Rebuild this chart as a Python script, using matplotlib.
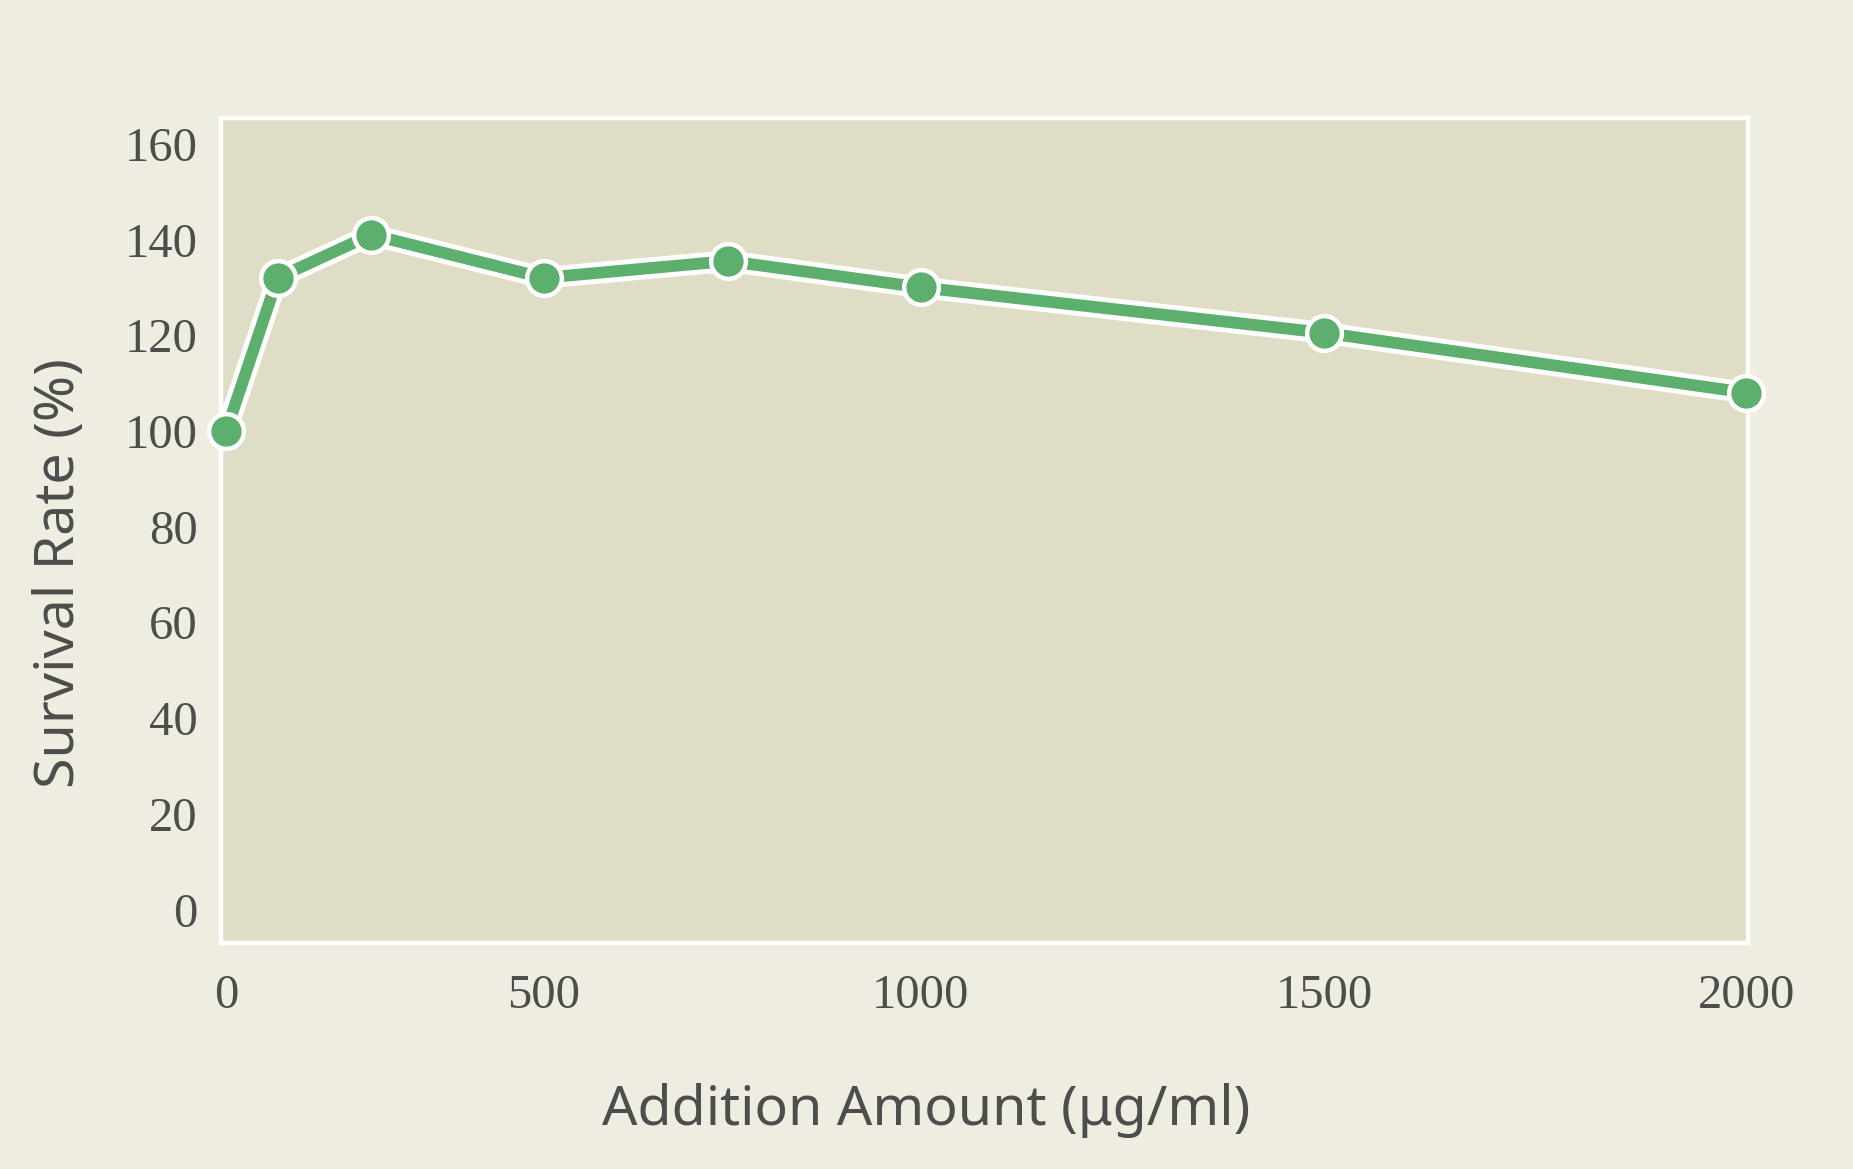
import matplotlib
matplotlib.use("Agg")
import matplotlib.pyplot as plt
import matplotlib.patheffects as pe
import numpy as np

# data
amount = [0, 100, 250, 500, 750, 1000, 1500, 2000]
survival = [100, 132, 141, 132, 135.5, 130, 120.5, 108]
x_ticks = [0, 500, 1000, 1500, 2000]
y_ticks = [0, 20, 40, 60, 80, 100, 120, 140, 160]

fig_bg = "#EFEDE1"
ax_bg = "#DFDDC6"
green = "#5DAF6E"
txt = "#4D4D4D"

# the x axis in the reference is slightly stretched toward the high end
p = 1.13


def fwd(x):
    x = np.asarray(x, dtype=float)
    return np.sign(x) * np.abs(x) ** p


def inv(x):
    x = np.asarray(x, dtype=float)
    return np.sign(x) * np.abs(x) ** (1 / p)


fig = plt.figure(figsize=(18.53, 11.69), dpi=100, facecolor=fig_bg)
ax = fig.add_axes([0.1193, 0.1933, 0.824, 0.7058], facecolor=ax_bg)
ax.set_xscale("function", functions=(fwd, inv))

# line with a white outline, then the markers on top
ax.plot(amount, survival, color=green, lw=8.5, solid_capstyle="round",
        path_effects=[pe.Stroke(linewidth=15.5, foreground="white"), pe.Normal()],
        zorder=3, clip_on=False)
ax.plot(amount, survival, ls="none", marker="o", ms=25, mfc=green, mec="white",
        mew=3.2, zorder=4, clip_on=False)

ax.set_xlim(-13, 2002)
ax.set_ylim(-7, 165.4)
ax.set_xticks(x_ticks)
ax.set_xticklabels([str(v) for v in x_ticks])
ax.set_yticks(y_ticks)
ax.set_yticklabels([str(v) for v in y_ticks])
ax.minorticks_off()

ax.tick_params(axis="both", length=0, labelcolor=txt, labelsize=35)
ax.tick_params(axis="y", pad=17)
ax.tick_params(axis="x", pad=22)
for lab in ax.get_xticklabels() + ax.get_yticklabels():
    lab.set_fontfamily("Liberation Serif")

for s in ax.spines.values():
    s.set_color("white")
    s.set_linewidth(3.2)
ax.grid(False)

ax.set_xlabel("Addition Amount (μg/ml)", fontsize=40, color=txt, family="Noto Sans")
ax.set_ylabel("Survival Rate (%)", fontsize=40, color=txt, family="Noto Sans")
ax.xaxis.set_label_coords(0.4617, -0.17)
ax.yaxis.set_label_coords(-0.088, 0.448)

fig.savefig("out.png", dpi=100, facecolor=fig_bg)
